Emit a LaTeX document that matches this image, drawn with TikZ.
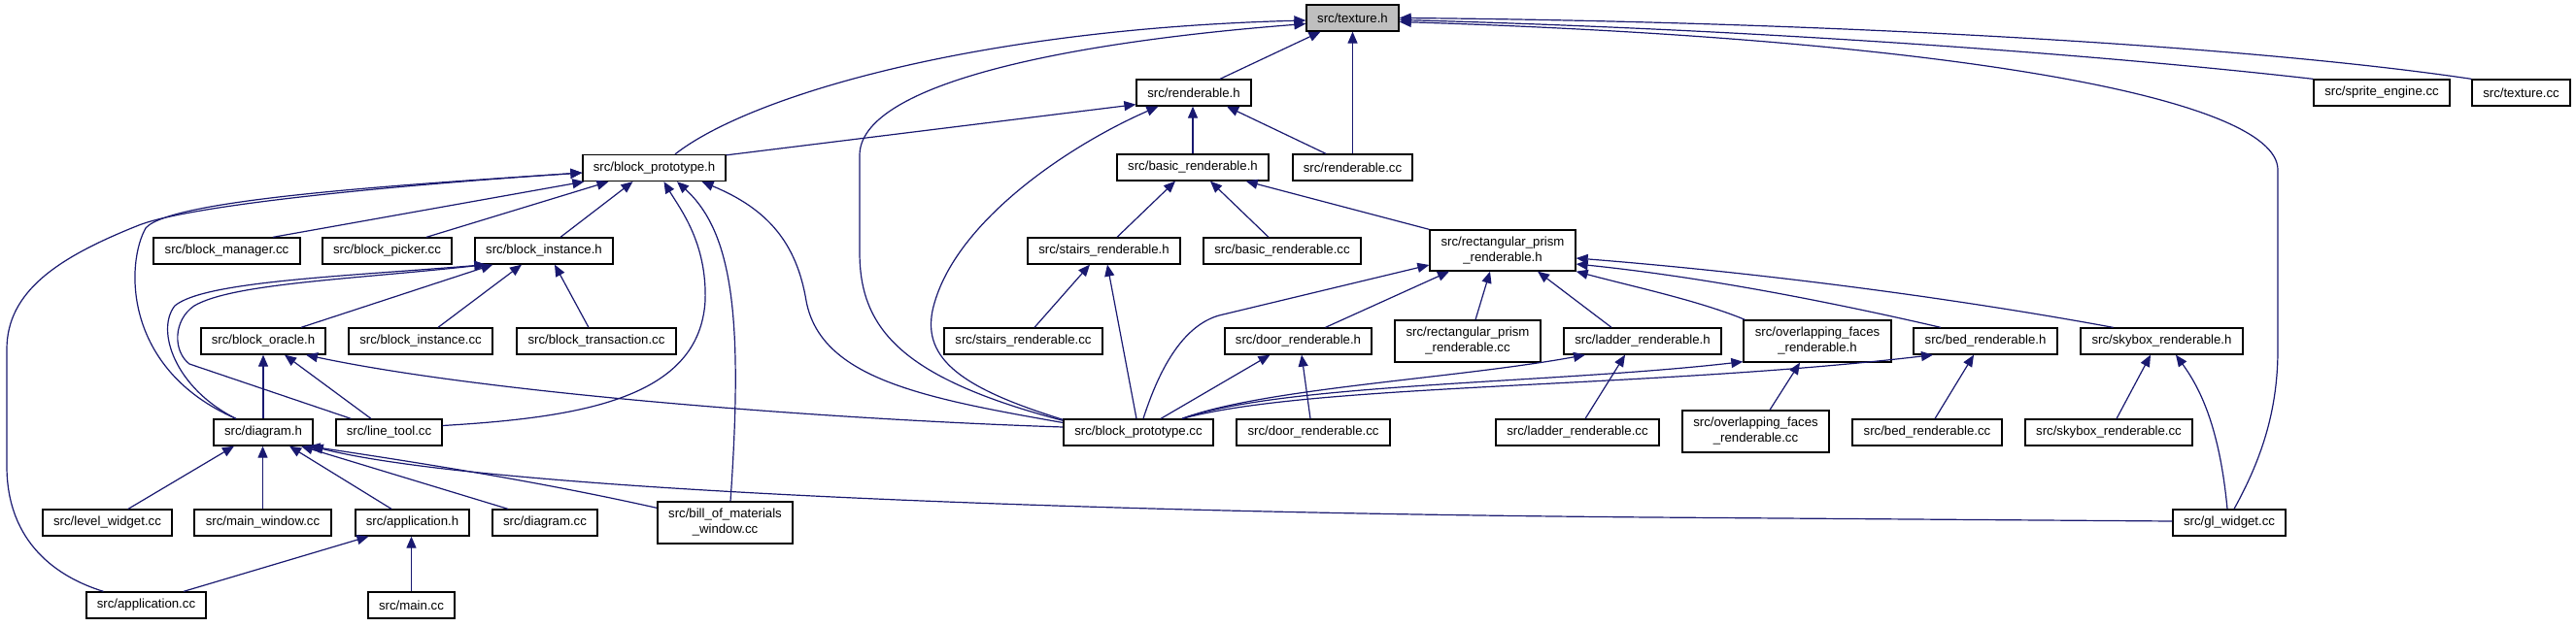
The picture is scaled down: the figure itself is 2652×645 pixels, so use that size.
\documentclass[tikz,border=0pt]{standalone}
\usepackage{fontspec}
\setmainfont{Liberation Sans}
\usetikzlibrary{arrows.meta,calc}
\definecolor{edgeblue}{RGB}{25,25,112}
\definecolor{texgray}{RGB}{191,191,191}
\begin{document}
\begin{tikzpicture}[x=1pt,y=-1pt,
  box/.style={draw=black, line width=1.3pt, fill=white, inner sep=0pt, minimum height=27pt,
    align=center, font=\fontsize{13.2}{16}\selectfont},
  edge/.style={draw=edgeblue, line width=1.2pt, -{Triangle[length=12pt,width=10pt]}}]
\fill[white] (0,0) rectangle (2652,645);
\useasboundingbox (0,0) rectangle (2652,645);
% row 0
\node[box, minimum width=95pt, fill=texgray] (texture) at (1392.5,18.5) {src/texture.h};
% row 1
\node[box, minimum width=118pt] (renh) at (1229,95.5) {src/renderable.h};
\node[box, minimum width=140pt] (sprite) at (2452,95.5) {src/sprite\_engine.cc};
\node[box, minimum width=101pt] (texcc) at (2595.5,95.5) {src/texture.cc};
% row 2
\node[box, minimum width=147pt] (bph) at (673.5,173) {src/block\_prototype.h};
\node[box, minimum width=156pt] (basich) at (1228,172.5) {src/basic\_renderable.h};
\node[box, minimum width=123pt] (rencc) at (1392.5,172.5) {src/renderable.cc};
% row 3
\node[box, minimum width=151pt] (bman) at (233.5,258.5) {src/block\_manager.cc};
\node[box, minimum width=133pt] (bpick) at (398.5,258.5) {src/block\_picker.cc};
\node[box, minimum width=142pt] (binsth) at (560,258.5) {src/block\_instance.h};
\node[box, minimum width=157pt] (stairsh) at (1136.5,258.5) {src/stairs\_renderable.h};
\node[box, minimum width=162pt] (basiccc) at (1320,258.5) {src/basic\_renderable.cc};
\node[box, minimum width=150pt, minimum height=42pt] (recth) at (1547,258) {src/rectangular\_prism\\\_renderable.h};
% row 4
\node[box, minimum width=128pt] (boracle) at (271,351.5) {src/block\_oracle.h};
\node[box, minimum width=148pt] (binstcc) at (433,351.5) {src/block\_instance.cc};
\node[box, minimum width=164pt] (btrans) at (614,351.5) {src/block\_transaction.cc};
\node[box, minimum width=163pt] (stairscc) at (1053.5,351.5) {src/stairs\_renderable.cc};
\node[box, minimum width=151pt] (doorh) at (1336.5,351.5) {src/door\_renderable.h};
\node[box, minimum width=150pt, minimum height=43pt] (rectcc) at (1511,351.5) {src/rectangular\_prism\\\_renderable.cc};
\node[box, minimum width=162pt] (ladderh) at (1691,351.5) {src/ladder\_renderable.h};
\node[box, minimum width=152pt, minimum height=43pt] (overh) at (1871,351.5) {src/overlapping\_faces\\\_renderable.h};
\node[box, minimum width=148pt] (bedh) at (2044,351.5) {src/bed\_renderable.h};
\node[box, minimum width=167pt] (skyh) at (2225.5,351.5) {src/skybox\_renderable.h};
% row 5
\node[box, minimum width=102pt] (diagh) at (271,445.5) {src/diagram.h};
\node[box, minimum width=109pt] (linetool) at (400.5,445.5) {src/line\_tool.cc};
\node[box, minimum width=154pt] (bpcc) at (1172,445.5) {src/block\_prototype.cc};
\node[box, minimum width=158pt] (doorcc) at (1352,445.5) {src/door\_renderable.cc};
\node[box, minimum width=168pt] (laddercc) at (1624,445.5) {src/ladder\_renderable.cc};
\node[box, minimum width=151pt, minimum height=43pt] (overcc) at (1807.5,444.5) {src/overlapping\_faces\\\_renderable.cc};
\node[box, minimum width=154pt] (bedcc) at (1984,445.5) {src/bed\_renderable.cc};
\node[box, minimum width=172pt] (skycc) at (2171,445.5) {src/skybox\_renderable.cc};
% row 6
\node[box, minimum width=133pt] (levelw) at (110.5,538.5) {src/level\_widget.cc};
\node[box, minimum width=141pt] (mainw) at (270.5,538.5) {src/main\_window.cc};
\node[box, minimum width=117pt] (apph) at (424.5,538.5) {src/application.h};
\node[box, minimum width=108pt] (diagcc) at (561,538.5) {src/diagram.cc};
\node[box, minimum width=139pt, minimum height=43pt] (bill) at (746.5,538.5) {src/bill\_of\_materials\\\_window.cc};
\node[box, minimum width=116pt] (glw) at (2295,538.5) {src/gl\_widget.cc};
% row 7
\node[box, minimum width=123pt] (appcc) at (150.5,623.5) {src/application.cc};
\node[box, minimum width=89pt] (maincc) at (423.5,623.5) {src/main.cc};

% edges into texture.h
\draw[edge] ($(bph.north)+(21.5,0)$) .. controls (770,100) and (1000,30) .. ($(texture.west)+(0,2.5)$);
\draw[edge] ($(bpcc.north west)+(0,2)$) .. controls (930,390) and (885,340) .. (885,260) -- (885,160) .. controls (885,90) and (1080,45) .. ($(texture.west)+(0,6)$);
\draw[edge] ($(renh.north)+(27,0)$) -- ($(texture.south)+(-33,0)$);
\draw[edge] (rencc.north) -- (texture.south);
\draw[edge] (sprite.north west) .. controls (2150,55) and (1800,30) .. ($(texture.east)+(0,2)$);
\draw[edge] (texcc.north west) .. controls (2300,45) and (1850,22) .. (texture.east);
\draw[edge] ($(glw.north)+(5,0)$) .. controls (2330,470) and (2345,420) .. (2345,360) -- (2345,175) .. controls (2345,100) and (2000,40) .. ($(texture.east)+(0,4)$);
% edges into renderable.h
\draw[edge] ($(bph.north east)+(0,1)$) -- ($(renh.south west)+(0,-2)$);
\draw[edge] ($(bpcc.north west)+(0,1)$) .. controls (990,400) and (950,370) .. (960,320) .. controls (980,230) and (1100,150) .. ($(renh.south west)+(23,0)$);
\draw[edge] (basich.north) -- (basich.north |- renh.south);
\draw[edge] ($(rencc.north)+(-27.5,0)$) -- ($(renh.south)+(34,0)$);
% edges into basic_renderable.h
\draw[edge] ($(stairsh.north)+(13.5,0)$) -- ($(basich.south)+(-18,0)$);
\draw[edge] ($(basiccc.north)+(-14,0)$) -- ($(basich.south)+(18,0)$);
\draw[edge] (recth.north west) -- ($(basich.south east)+(-24,0)$);
% edges into stairs_renderable.h
\draw[edge] ($(stairscc.north)+(11.5,0)$) -- ($(stairsh.south)+(-14.5,0)$);
\draw[edge] ($(bpcc.north)+(-2,0)$) -- ($(stairsh.south)+(3.5,0)$);
% edges into rectangular_prism_renderable.h
\draw[edge] ($(bpcc.north)+(5,0)$) .. controls (1195,375) and (1220,335) .. (1255,325) -- ($(recth.west)+(0,15)$);
\draw[edge] ($(doorh.north)+(28,0)$) -- ($(recth.south)+(-55,0)$);
\draw[edge] ($(rectcc.north)+(8,0)$) -- ($(recth.south)+(-13,0)$);
\draw[edge] ($(ladderh.north)+(-32,0)$) -- ($(recth.south)+(36,0)$);
\draw[edge] ($(skyh.north)+(-50,0)$) .. controls (2000,305) and (1800,280) .. ($(recth.east)+(0,8)$);
\draw[edge] ($(bedh.north)+(-46,0)$) .. controls (1880,310) and (1750,285) .. ($(recth.east)+(0,14)$);
\draw[edge] ($(overh.north west)+(2,0)$) .. controls (1750,310) and (1680,295) .. (recth.south east);
% door / ladder / overlapping / bed / skybox headers
\draw[edge] ($(bpcc.north)+(23,0)$) -- ($(doorh.south)+(-29,0)$);
\draw[edge] ($(doorcc.north)+(-3,0)$) -- ($(doorh.south)+(3.5,0)$);
\draw[edge] ($(bpcc.north)+(45,0)$) .. controls (1300,400) and (1500,390) .. ($(ladderh.south)+(-59,0)$);
\draw[edge] ($(laddercc.north)+(8,0)$) -- ($(ladderh.south)+(-18,0)$);
\draw[edge] ($(bpcc.north)+(45,0)$) .. controls (1320,395) and (1600,395) .. ($(overh.south west)+(0,-1)$);
\draw[edge] ($(overcc.north)+(14.5,0)$) -- ($(overh.south)+(-18,0)$);
\draw[edge] ($(bpcc.north)+(45,0)$) .. controls (1350,395) and (1700,400) .. ($(bedh.south)+(-54,0)$);
\draw[edge] ($(bedcc.north)+(8,0)$) -- ($(bedh.south)+(-12,0)$);
\draw[edge] ($(skycc.north)+(8,0)$) -- ($(skyh.south)+(-11.5,0)$);
\draw[edge] ($(glw.north)+(-2,0)$) .. controls (2285,440) and (2265,400) .. ($(skyh.south)+(14.5,0)$);
% edges into block_prototype.h
\draw[edge] ($(bman.north)+(47.5,0)$) -- ($(bph.south west)+(2,0)$);
\draw[edge] ($(bpick.north)+(40.5,0)$) -- ($(bph.south)+(-47,0)$);
\draw[edge] ($(binsth.north)+(17,0)$) -- ($(bph.south)+(-22,0)$);
\draw[edge] ($(linetool.east)+(0,-7)$) .. controls (600,430) and (720,410) .. (726,310) .. controls (728,250) and (700,215) .. ($(bph.south)+(10,0)$);
\draw[edge] ($(bill.north)+(5.5,0)$) .. controls (765,330) and (755,240) .. ($(bph.south)+(23.5,0)$);
\draw[edge] ($(bpcc.west)+(0,-10)$) .. controls (950,410) and (845,390) .. (830,310) .. controls (820,250) and (790,215) .. ($(bph.south)+(49,0)$);
\draw[edge] ($(diagh.north)+(-28,0)$) .. controls (125,380) and (130,270) .. (150,235) .. controls (175,205) and (420,190) .. ($(bph.west)+(0,5)$);
\draw[edge] ($(appcc.north)+(-44,0)$) .. controls (60,595) and (7,560) .. (7,480) -- (7,360) .. controls (7,300) and (60,265) .. (143,232) .. controls (200,210) and (420,190) .. ($(bph.west)+(0,5)$);
% edges into block_instance.h
\draw[edge] ($(boracle.north)+(39,0)$) -- ($(binsth.south west)+(19,0)$);
\draw[edge] ($(binstcc.north)+(18,0)$) -- ($(binsth.south)+(-23,0)$);
\draw[edge] ($(btrans.north)+(-8,0)$) -- ($(binsth.south)+(11,0)$);
\draw[edge] ($(diagh.north)+(-28,0)$) .. controls (180,400) and (160,340) .. (180,315) .. controls (210,290) and (350,285) .. ($(binsth.south west)+(12,0)$);
\draw[edge] ($(linetool.north west)+(16,0)$) -- (195,375) .. controls (178,362) and (178,330) .. (200,315) .. controls (240,292) and (360,288) .. ($(binsth.south west)+(12,0)$);
% edges into block_oracle.h
\draw[edge] (diagh.north) -- (boracle.south);
\draw[edge] ($(linetool.north)+(-18.5,0)$) -- ($(boracle.south)+(22,0)$);
\draw[edge] ($(bpcc.west)+(0,-5.5)$) .. controls (850,432) and (500,405) .. ($(boracle.south)+(44,0)$);
% edges into diagram.h
\draw[edge] ($(levelw.north)+(21.5,0)$) -- ($(diagh.south)+(-30,0)$);
\draw[edge] (mainw.north) -- (mainw.north |- diagh.south);
\draw[edge] ($(apph.north)+(-21.5,0)$) -- ($(diagh.south)+(27,0)$);
\draw[edge] ($(diagcc.north)+(-38,0)$) -- ($(diagh.south)+(39,0)$);
\draw[edge] ($(bill.north west)+(0,7)$) .. controls (550,495) and (420,475) .. ($(diagh.south east)+(-5,0)$);
\draw[edge] ($(glw.west)+(0,-1.5)$) -- (1700,533) .. controls (1100,528) and (500,505) .. ($(diagh.south east)+(-2,0)$);
% edges into application.h
\draw[edge] ($(appcc.north)+(38.5,0)$) -- ($(apph.south)+(-45,0)$);
\draw[edge] (maincc.north) -- (maincc.north |- apph.south);
\end{tikzpicture}
\end{document}
